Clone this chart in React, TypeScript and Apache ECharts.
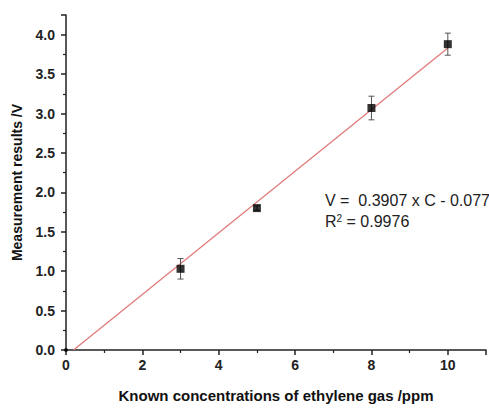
import React, { useEffect, useRef } from "react";
import * as echarts from "echarts";

const concentrations = [3, 5, 8, 10];
const measured = [1.03, 1.8, 3.07, 3.88];
const errors = [0.13, 0.03, 0.15, 0.14];
const originPoint = [[0, 0]];
const slope = 0.3907;
const intercept = -0.077;
const fitRange = [-intercept / slope, 10];
const xTitle = "Known concentrations of ethylene gas /ppm";
const yTitle = "Measurement results /V";
const equationText = "V =  0.3907 x C - 0.077";
const r2Value = "0.9976";

const FONT = "'Liberation Sans', Arial, sans-serif";

export default function App() {
  const ref = useRef<HTMLDivElement>(null);
  useEffect(() => {
    document.body.style.margin = "0";
    if (!ref.current) return;
    const chart = echarts.init(ref.current, null, { renderer: "svg" });
    const points = concentrations.map((c, i) => [c, measured[i]]);
    const errData = concentrations.map((c, i) => [c, measured[i] - errors[i], measured[i] + errors[i]]);
    const fitData = fitRange.map((x) => [x, slope * x + intercept]);
    chart.setOption({
      animation: false,
      backgroundColor: "#ffffff",
      grid: { left: 66, right: 2, top: 15, bottom: 53, containLabel: false },
      xAxis: {
        type: "value",
        min: 0,
        max: 11,
        interval: 2,
        name: xTitle,
        nameLocation: "middle",
        nameGap: 38,
        nameTextStyle: { fontFamily: FONT, fontWeight: "bold", fontSize: 15, color: "#111" },
        axisLine: { show: true, onZero: false, lineStyle: { color: "#222", width: 1.5 } },
        axisTick: { show: true, inside: false, length: 5, lineStyle: { color: "#222", width: 1.5 } },
        minorTick: { show: true, splitNumber: 2, length: 3, lineStyle: { color: "#222", width: 1.2 } },
        splitLine: { show: false },
        axisLabel: {
          fontFamily: FONT,
          fontWeight: "bold",
          fontSize: 14,
          color: "#222",
          margin: 8,
          formatter: (v: number) => (v > 10 ? "" : String(v)),
        },
      },
      yAxis: {
        type: "value",
        min: 0,
        max: 4.25,
        interval: 0.5,
        name: yTitle,
        nameLocation: "middle",
        nameGap: 42,
        nameRotate: 90,
        nameTextStyle: { fontFamily: FONT, fontWeight: "bold", fontSize: 14, color: "#111" },
        axisLine: { show: true, onZero: false, lineStyle: { color: "#222", width: 1.5 } },
        axisTick: { show: true, inside: false, length: 5, lineStyle: { color: "#222", width: 1.5 } },
        minorTick: { show: true, splitNumber: 2, length: 3, lineStyle: { color: "#222", width: 1.2 } },
        splitLine: { show: false },
        axisLabel: {
          fontFamily: FONT,
          fontWeight: "bold",
          fontSize: 14,
          color: "#222",
          margin: 11,
          formatter: (v: number) => (v > 4 ? "" : v.toFixed(1)),
        },
      },
      series: [
        {
          type: "line",
          data: fitData,
          showSymbol: false,
          lineStyle: { color: "#e07a7a", width: 1.3 },
          z: 1,
        },
        {
          type: "custom",
          data: errData,
          z: 2,
          renderItem: (params: any, api: any) => {
            const x = api.value(0);
            const lo = api.coord([x, api.value(1)]);
            const hi = api.coord([x, api.value(2)]);
            const cap = 3;
            const style = { stroke: "#555", lineWidth: 1 };
            return {
              type: "group",
              children: [
                { type: "line", shape: { x1: lo[0], y1: lo[1], x2: hi[0], y2: hi[1] }, style },
                { type: "line", shape: { x1: lo[0] - cap, y1: lo[1], x2: lo[0] + cap, y2: lo[1] }, style },
                { type: "line", shape: { x1: hi[0] - cap, y1: hi[1], x2: hi[0] + cap, y2: hi[1] }, style },
              ],
            };
          },
        },
        {
          type: "scatter",
          data: points,
          symbol: "rect",
          symbolSize: 8,
          itemStyle: { color: "#000" },
          z: 3,
        },
        {
          type: "scatter",
          data: originPoint,
          symbol: "circle",
          symbolSize: 4,
          itemStyle: { color: "#000" },
          z: 4,
        },
      ],
      graphic: [
        {
          type: "text",
          left: 325,
          top: 192,
          style: { text: equationText, fontFamily: FONT, fontSize: 16, fill: "#222" },
        },
        {
          type: "text",
          left: 325,
          top: 213,
          style: {
            text: "R{s|2} = " + r2Value,
            fontFamily: FONT,
            fontSize: 16,
            fill: "#222",
            rich: { s: { fontSize: 10, verticalAlign: "top", padding: [0, 0, 7, 0], fontFamily: FONT, fill: "#222" } },
          },
        },
      ],
    });
    return () => chart.dispose();
  }, []);
  return <div ref={ref} style={{ width: 489, height: 408 }} />;
}
